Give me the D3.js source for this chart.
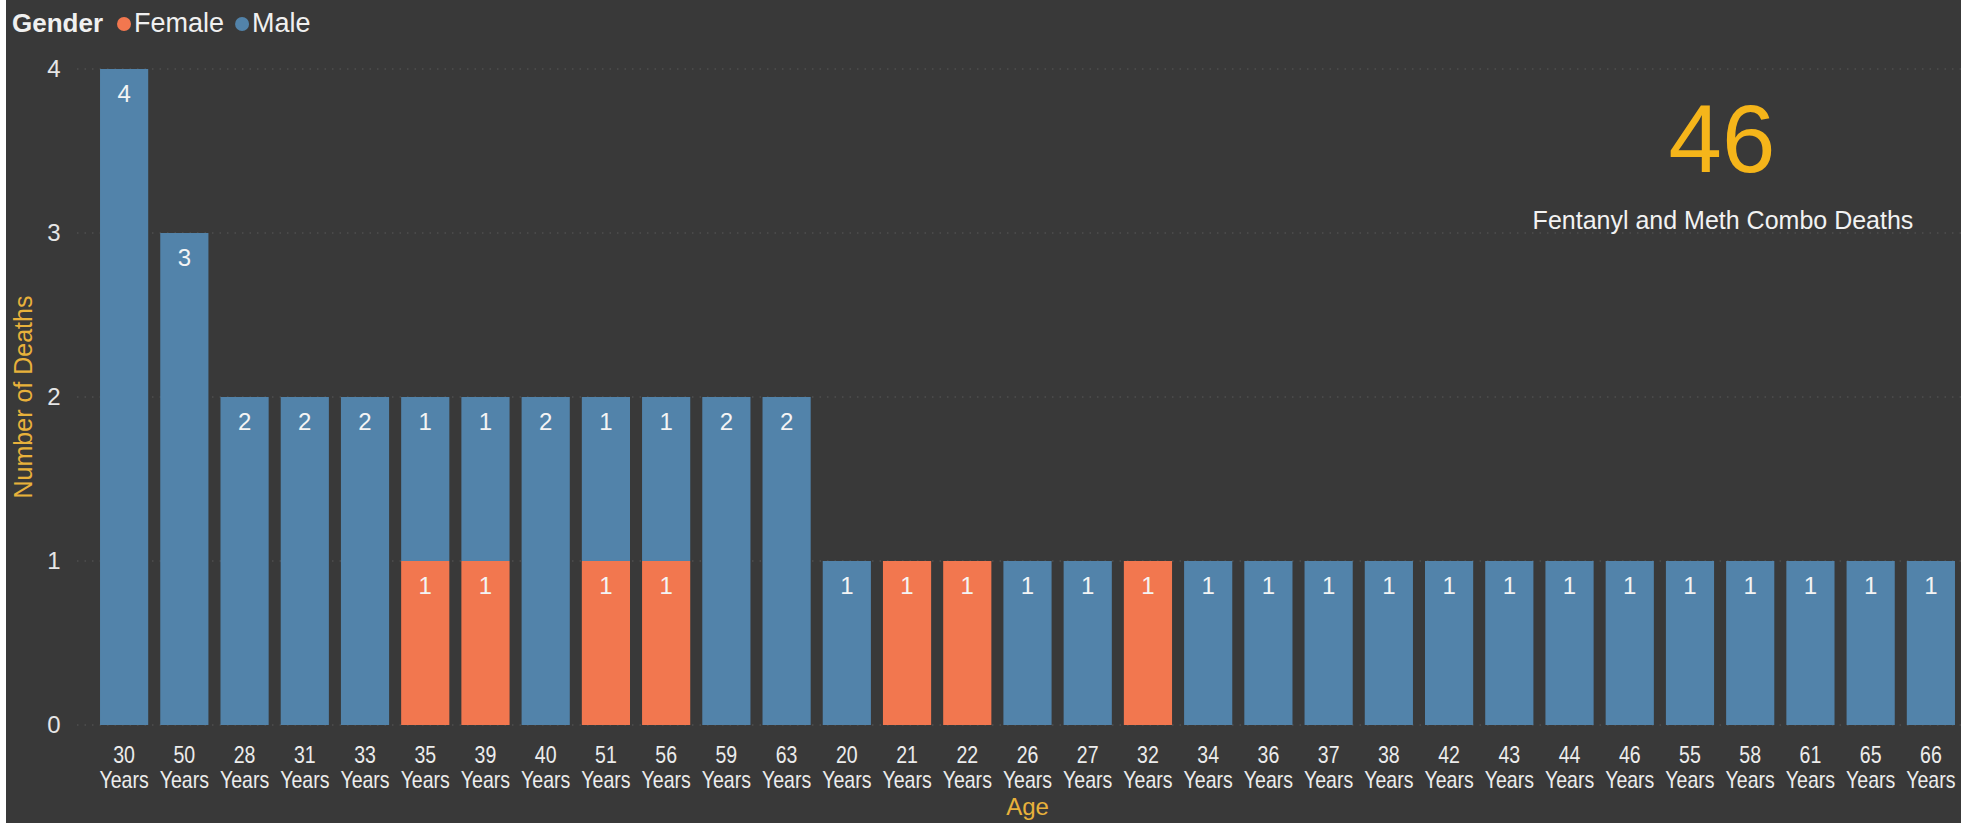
<!DOCTYPE html>
<html>
<head>
<meta charset="utf-8">
<script src="https://cdn.jsdelivr.net/npm/d3@7"></script>
<style>
  html, body { margin: 0; padding: 0; background: #ffffff; }
  svg { display: block; }
  text { font-family: "Liberation Sans", Arial, sans-serif; }
</style>
</head>
<body>
<svg id="chart" width="1971" height="823"></svg>
<script>
// Age groups, in the order the bars are sorted (by total deaths, descending)
const ages = ["30","50","28","31","33","35","39","40","51","56","59","63",
              "20","21","22","26","27","32","34","36","37","38","42","43",
              "44","46","55","58","61","65","66"];
const femaleDeaths = [0,0,0,0,0,1,1,0,1,1,0,0,
                      0,1,1,0,0,1,0,0,0,0,0,0,
                      0,0,0,0,0,0,0];
const maleDeaths   = [4,3,2,2,2,1,1,2,1,1,2,2,
                      1,0,0,1,1,0,1,1,1,1,1,1,
                      1,1,1,1,1,1,1];
const yTicks = [0,1,2,3,4];
const genders = ["Female","Male"];
const genderColors = ["#F2774F","#5283AA"];
const cardLabel = "Fentanyl and Meth Combo Deaths";

const svg = d3.select("#chart");
const W = 1971, H = 823;

// dark canvas
svg.append("rect").attr("x", 6).attr("y", 0).attr("width", 1955).attr("height", H)
  .attr("fill", "#393939");

const rows = ages.map((a, i) => ({ age: a, Female: femaleDeaths[i], Male: maleDeaths[i] }));

const x = d3.scaleBand().domain(ages).range([94, 1961]).paddingInner(0.2).paddingOuter(0.1);
const y = d3.scaleLinear().domain([0, 4]).range([725, 69]);
const color = d3.scaleOrdinal().domain(genders).range(genderColors);

// dotted gridlines
svg.append("g").selectAll("line").data(yTicks).join("line")
  .attr("x1", 77).attr("x2", 1961)
  .attr("y1", d => y(d)).attr("y2", d => y(d))
  .attr("stroke", "#5a5a5a").attr("stroke-width", 1.2)
  .attr("stroke-dasharray", "1.5,6");

// y axis
const yAxis = svg.append("g").attr("transform", "translate(70,0)")
  .call(d3.axisLeft(y).tickValues(yTicks).tickFormat(d3.format("d")).tickSize(0).tickPadding(0));
yAxis.select(".domain").remove();
yAxis.selectAll("text").attr("fill", "#e6e6e6").attr("font-size", 24)
  .attr("text-anchor", "middle").attr("x", -16)
  .style("font-family", "'Liberation Sans', Arial, sans-serif");

svg.append("text")
  .attr("transform", "translate(32,397) rotate(-90)")
  .attr("text-anchor", "middle")
  .attr("fill", "#E8B13B").attr("font-size", 25)
  .text("Number of Deaths");

// stacked bars
const stack = d3.stack().keys(genders);
const series = stack(rows);

const layers = svg.append("g").selectAll("g").data(series).join("g")
  .attr("fill", s => color(s.key));

layers.selectAll("rect").data(s => s.filter(d => d[1] - d[0] > 0)).join("rect")
  .attr("x", d => x(d.data.age))
  .attr("width", x.bandwidth())
  .attr("y", d => y(d[1]))
  .attr("height", d => y(d[0]) - y(d[1]));

// value labels near the top of each segment
layers.selectAll("text").data(s => s.filter(d => d[1] - d[0] > 0)).join("text")
  .attr("x", d => x(d.data.age) + x.bandwidth() / 2)
  .attr("y", d => y(d[1]) + 33)
  .attr("text-anchor", "middle")
  .attr("fill", "#f4f4f4").attr("font-size", 24)
  .text(d => d[1] - d[0]);

// x axis: "NN" over "Years"
const xAxis = svg.append("g").attr("transform", "translate(0,725)")
  .call(d3.axisBottom(x).tickSize(0).tickPadding(0));
xAxis.select(".domain").remove();
xAxis.selectAll(".tick text").each(function(d) {
  const t = d3.select(this);
  t.text(null).attr("y", 0).attr("dy", null)
    .attr("fill", "#ececec").attr("font-size", 23)
    .attr("transform", "scale(0.85,1)")
    .style("font-family", "'Liberation Sans', Arial, sans-serif");
  t.append("tspan").attr("x", 0).attr("y", 38).text(d);
  t.append("tspan").attr("x", 0).attr("y", 63).text("Years");
});

svg.append("text")
  .attr("x", (x.range()[0] + x.range()[1]) / 2).attr("y", 815)
  .attr("text-anchor", "middle")
  .attr("fill", "#E8B13B").attr("font-size", 24)
  .text("Age");

// legend
const legend = svg.append("g");
const title = legend.append("text").attr("x", 12).attr("y", 32)
  .attr("fill", "#f0f0f0").attr("font-size", 26).attr("font-weight", "bold")
  .text("Gender");
let lx = 12 + title.node().getComputedTextLength() + 14;
genders.forEach((g, i) => {
  legend.append("circle").attr("cx", lx + 7).attr("cy", 24).attr("r", 7).attr("fill", genderColors[i]);
  const t = legend.append("text").attr("x", lx + 17).attr("y", 32)
    .attr("fill", "#f0f0f0").attr("font-size", 27).text(g);
  lx += 17 + t.node().getComputedTextLength() + 11;
});

// total card
const total = d3.sum(femaleDeaths) + d3.sum(maleDeaths);
svg.append("text").attr("x", 1722).attr("y", 172).attr("text-anchor", "middle")
  .attr("fill", "#F5B51A").attr("font-size", 96)
  .text(total);
svg.append("text").attr("x", 1723).attr("y", 229).attr("text-anchor", "middle")
  .attr("fill", "#f2f2f2").attr("font-size", 25)
  .text(cardLabel);
</script>
</body>
</html>
